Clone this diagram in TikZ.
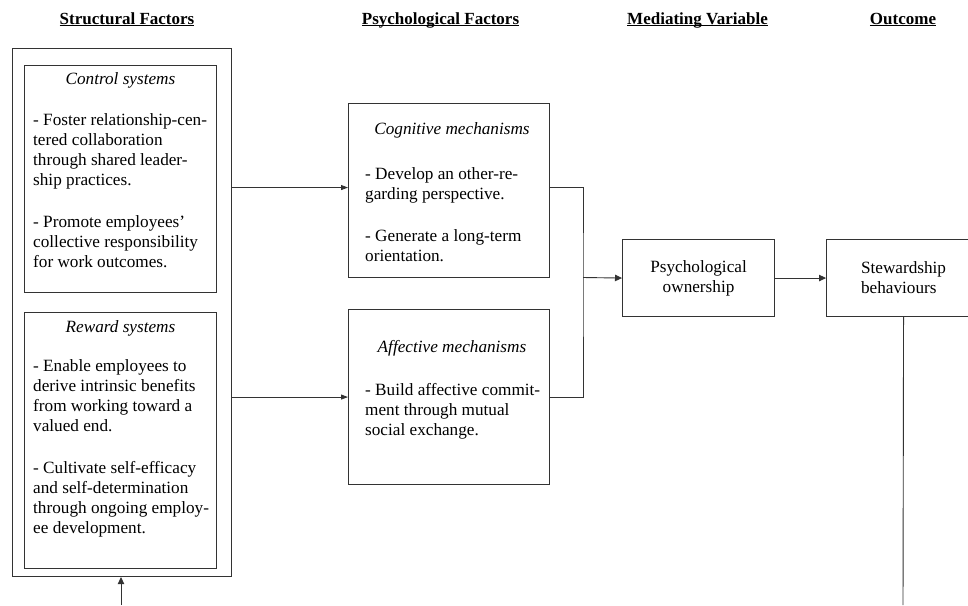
\documentclass[tikz,border=0pt]{standalone}
\usepackage{fontspec}
\setmainfont{Liberation Serif}
\usetikzlibrary{arrows.meta}
\newcommand\hdrul[1]{\underline{\smash{#1}}}
\begin{document}
\begin{tikzpicture}[x=1pt,y=-1pt,
  box/.style={draw=black!80, line width=1.1pt, inner sep=0pt, anchor=north west},
  txt/.style={font=\fontsize{17.2}{20}\selectfont, inner sep=0pt},
  body/.style={txt, anchor=north west, align=left},
  ttl/.style={inner sep=0pt, font=\fontsize{17.2}{20}\selectfont\itshape, anchor=base},
  hdr/.style={inner sep=0pt, font=\fontsize{17}{20}\selectfont\bfseries, anchor=base},
  link/.style={draw=black!80, line width=0.9pt},
  arr/.style={link, -{Triangle[length=7pt,width=5pt]}},
  bigarr/.style={link, -{Triangle[length=7pt,width=6.5pt]}}]
\useasboundingbox (0,0) rectangle (968,605);
\clip (0,0) rectangle (968,605);
\fill[white] (0,0) rectangle (968,605);

% headers
\node[hdr] (h1) at (127,24) {\hdrul{Structural Factors}};
\node[hdr] (h2) at (440.5,24) {\hdrul{Psychological Factors}};
\node[hdr] (h3) at (697.5,24) {\hdrul{Mediating Variable}};
\node[hdr] (h4) at (903,24) {\hdrul{Outcome}};

% boxes
\node[box, minimum width=219pt, minimum height=528pt] (outer) at (12,48) {};
\node[box, minimum width=192pt, minimum height=227pt] (ctrl) at (24,65) {};
\node[box, minimum width=192pt, minimum height=256pt] (rew) at (24,312) {};
\node[box, minimum width=201pt, minimum height=174pt] (cog) at (348,103) {};
\node[box, minimum width=201pt, minimum height=175pt] (aff) at (348,309) {};
\node[box, txt, minimum width=152pt, minimum height=77pt, align=center] (psy) at (622,239) {Psychological\\ownership};
\node[box, txt, minimum width=154pt, minimum height=77pt, align=left] (stew) at (826,239) {Stewardship\\behaviours};

% titles
\node[ttl] (ctrlT) at (120.5,84) {Control systems};
\node[ttl] (rewT) at (120.5,332.5) {Reward systems};
\node[ttl] (cogT) at (452,134.5) {Cognitive mechanisms};
\node[ttl] (affT) at (452,352) {Affective mechanisms};

% body texts
\node[body] (ctrlB) at (33,113) {- Foster relationship-cen-\\tered collaboration\\through shared leader-\\ship practices.\\[22pt]- Promote employees'\\collective responsibility\\for work outcomes.};
\node[body] (rewB) at (33,359) {- Enable employees to\\derive intrinsic benefits\\from working toward a\\valued end.\\[22pt]- Cultivate self-efficacy\\and self-determination\\through ongoing employ-\\ee development.};
\node[body] (cogB) at (365,167) {- Develop an other-re-\\garding perspective.\\[22pt]- Generate a long-term\\orientation.};
\node[body] (affB) at (365,383) {- Build affective commit-\\ment through mutual\\social exchange.};

% connectors
\coordinate (cogin) at ([yshift=3pt]cog.west);
\coordinate (cogout) at ([yshift=3pt]cog.east);
\coordinate (merge) at (583,277.5);
\coordinate (fbL) at (121,605);
\coordinate (fbR) at (903,605);
\draw[arr] (outer.east |- cogin) -- (cogin);
\draw[arr] (outer.east |- aff.west) -- (aff.west);
\draw[link] (cogout) -| (merge) |- (aff.east);
\draw[bigarr] (merge) -- (psy.west);
\draw[bigarr] (psy.east) -- (stew.west);
\draw[bigarr] (fbL) -- (fbL |- outer.south);
\draw[link] (stew.south) -- (fbR);
\end{tikzpicture}
\end{document}
